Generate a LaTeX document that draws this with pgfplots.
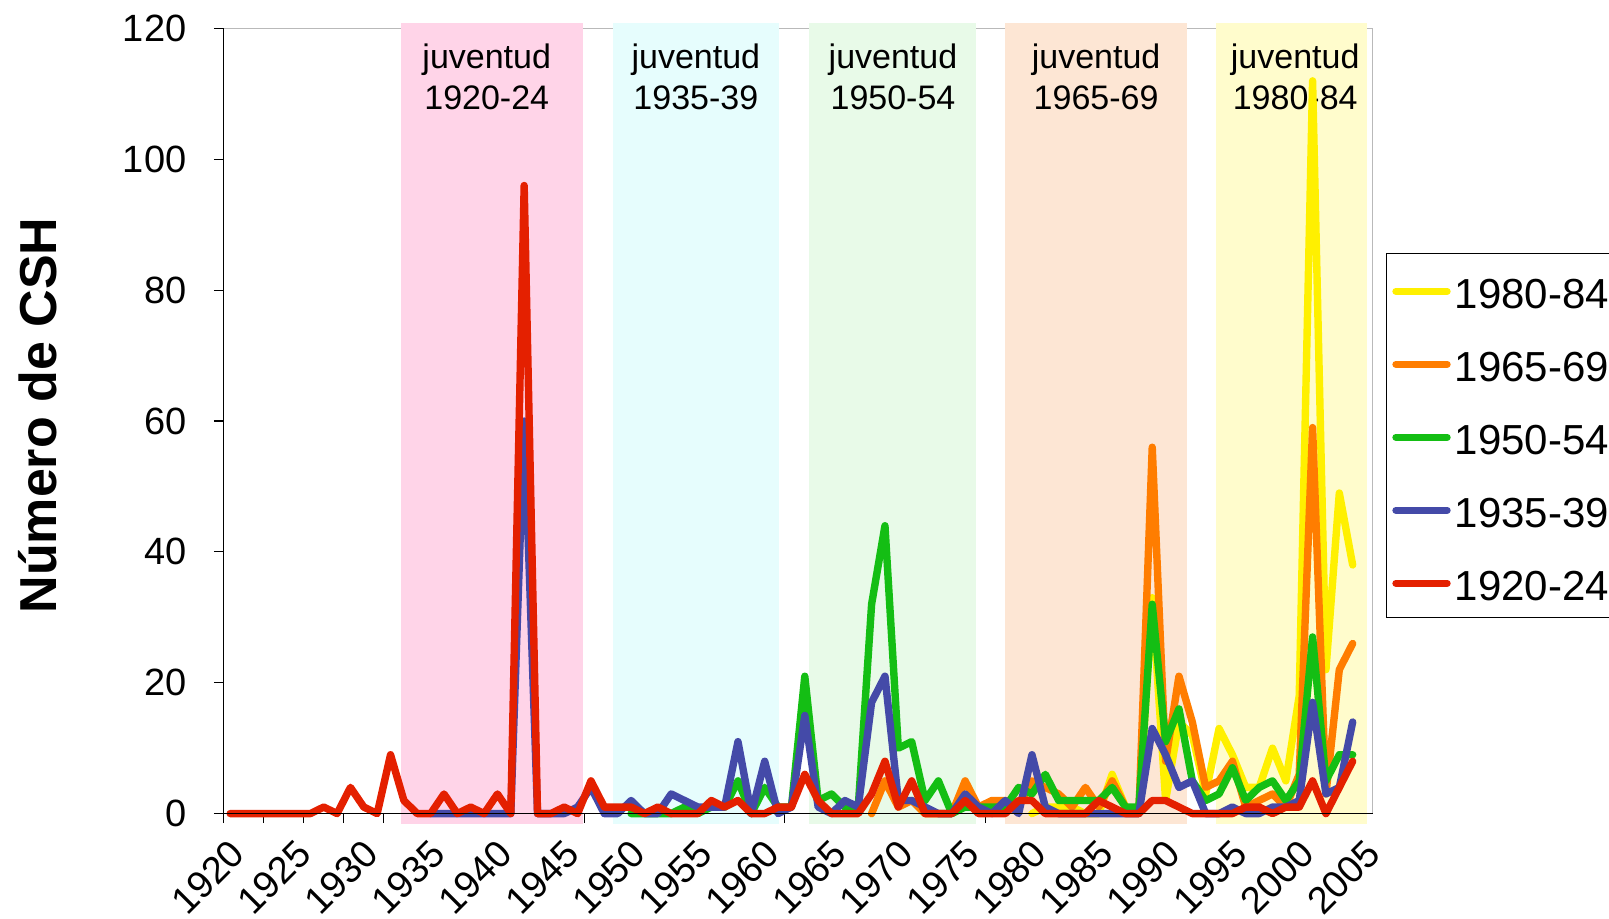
\documentclass[border=0pt]{standalone}
\usepackage{pgfplots}
\usepackage{pgfplotstable}
\pgfplotsset{compat=1.18}
\usepackage{fontspec}
\setmainfont{Liberation Sans}

\definecolor{bandpink}{RGB}{255,212,232}
\definecolor{bandcyan}{RGB}{230,253,253}
\definecolor{bandgreen}{RGB}{232,250,232}
\definecolor{bandpeach}{RGB}{253,230,212}
\definecolor{bandyellow}{RGB}{255,252,204}
\definecolor{cY}{RGB}{255,240,0}
\definecolor{cO}{RGB}{255,125,0}
\definecolor{cG}{RGB}{20,190,20}
\definecolor{cB}{RGB}{68,74,168}
\definecolor{cR}{RGB}{228,32,0}

\pgfplotstableread{
year Y O G B R
1920 nan nan nan nan 0
1921 nan nan nan nan 0
1922 nan nan nan nan 0
1923 nan nan nan nan 0
1924 nan nan nan nan 0
1925 nan nan nan nan 0
1926 nan nan nan nan 0
1927 nan nan nan nan 1
1928 nan nan nan nan 0
1929 nan nan nan nan 4
1930 nan nan nan nan 1
1931 nan nan nan nan 0
1932 nan nan nan nan 9
1933 nan nan nan nan 2
1934 nan nan nan nan 0
1935 nan nan nan 0 0
1936 nan nan nan 0 3
1937 nan nan nan 0 0
1938 nan nan nan 0 1
1939 nan nan nan 0 0
1940 nan nan nan 0 3
1941 nan nan nan 0 0
1942 nan nan nan 60 96
1943 nan nan nan 0 0
1944 nan nan nan 0 0
1945 nan nan nan 0 1
1946 nan nan nan 1 0
1947 nan nan nan 4 5
1948 nan nan nan 0 1
1949 nan nan nan 0 1
1950 nan nan 0 2 1
1951 nan nan 0 0 0
1952 nan nan 0 0 1
1953 nan nan 0 3 0
1954 nan nan 1 2 0
1955 nan nan 0 1 0
1956 nan nan 1 1 2
1957 nan nan 1 1 1
1958 nan nan 5 11 2
1959 nan nan 0 0 0
1960 nan nan 4 8 0
1961 nan nan 1 0 1
1962 nan nan 1 1 1
1963 nan nan 21 15 6
1964 nan nan 2 1 2
1965 nan nan 3 0 0
1966 nan nan 1 2 0
1967 nan nan 1 1 0
1968 nan 0 32 17 3
1969 nan 5 44 21 8
1970 nan 1 10 2 1
1971 nan 2 11 2 5
1972 nan 0 2 1 0
1973 nan 0 5 0 0
1974 nan 0 0 0 0
1975 nan 5 1 3 2
1976 nan 1 1 1 0
1977 nan 2 1 0 0
1978 nan 2 1 2 0
1979 nan 1 4 0 2
1980 0 5 3 9 2
1981 1 4 6 1 0
1982 1 3 2 0 0
1983 1 1 2 0 0
1984 0 4 2 0 0
1985 0 1 2 0 2
1986 6 5 4 0 1
1987 1 1 1 0 0
1988 0 0 1 0 0
1989 33 56 32 13 2
1990 2 8 11 9 2
1991 14 21 16 4 1
1992 12 14 5 5 0
1993 3 4 2 0 0
1994 13 5 3 0 0
1995 9 8 7 1 0
1996 4 1 2 0 1
1997 4 2 4 0 1
1998 10 3 5 1 0
1999 5 1 2 1 1
2000 18 6 5 2 1
2001 112 59 27 17 5
2002 22 3 5 3 0
2003 49 22 9 4 4
2004 38 26 9 14 8
}\datatable

\begin{document}
\begin{tikzpicture}
\begin{axis}[
  at={(111.75pt,52.7pt)}, anchor=south west,
  scale only axis, width=574.6pt, height=392.55pt,
  xmin=1919.5, xmax=2005.5, ymin=0, ymax=120,
  clip=false,
  axis line style={draw=gray!55, line width=0.6pt},
  tick align=outside,
  xtick pos=bottom, ytick pos=left,
  major tick length=4.8pt,
  tick style={black, line width=0.6pt},
  xtick={1919.5,1922.5,...,2004},
  xticklabels={},
  extra x ticks={1920,1925,...,2005},
  extra x tick labels={1920,1925,1930,1935,1940,1945,1950,1955,1960,1965,1970,1975,1980,1985,1990,1995,2000,2005},
  extra x tick style={major tick length=0pt,
    xticklabel style={xshift=-1pt, yshift=-12pt, rotate=45, anchor=north east, inner sep=0pt,
      font=\fontsize{19}{19}\selectfont}},
  ytick={0,20,...,120},
  yticklabel style={font=\fontsize{19}{19}\selectfont, inner sep=0pt, xshift=-13.6pt},
  /pgf/number format/assume math mode=true,
  /pgf/number format/1000 sep={},
  ylabel={Número de CSH},
  ylabel style={at={(axis description cs:-0.1614,0.507)}, anchor=center, font=\bfseries\fontsize{26}{26}\selectfont},
  legend cell align=left,
  legend style={at={(axis description cs:1.0113,0.7137)}, anchor=north west,
    draw=black, line width=0.6pt, fill=white,
    font=\fontsize{21}{21}\selectfont,
    inner xsep=3pt, inner ysep=8pt, row sep=16.5pt,
    nodes={text height=19.5pt, text depth=0.5pt, inner ysep=0pt, inner xsep=2pt}},
  legend image code/.code={\draw[#1, line width=3.6pt, line cap=round] (1.8pt,-0.7pt) -- (27.4pt,-0.7pt);},
]
% bands
\addplot[fill=bandpink, draw=none, forget plot] coordinates {(1932.8,-1.55) (1946.4,-1.55) (1946.4,120.9) (1932.8,120.9)} -- cycle;
\addplot[fill=bandcyan, draw=none, forget plot] coordinates {(1948.67,-1.55) (1961.1,-1.55) (1961.1,120.9) (1948.67,120.9)} -- cycle;
\addplot[fill=bandgreen, draw=none, forget plot] coordinates {(1963.3,-1.55) (1975.8,-1.55) (1975.8,120.9) (1963.3,120.9)} -- cycle;
\addplot[fill=bandpeach, draw=none, forget plot] coordinates {(1978.0,-1.55) (1991.6,-1.55) (1991.6,120.9) (1978.0,120.9)} -- cycle;
\addplot[fill=bandyellow, draw=none, forget plot] coordinates {(1993.8,-1.55) (2005.1,-1.55) (2005.1,120.9) (1993.8,120.9)} -- cycle;

\begin{scope}[font=\fontsize{17}{17}\selectfont]
\node[anchor=base] at (axis cs:1939.2,113.9) {juventud};
\node[anchor=base] at (axis cs:1939.2,107.6) {1920-24};
\node[anchor=base] at (axis cs:1954.85,113.9) {juventud};
\node[anchor=base] at (axis cs:1954.85,107.6) {1935-39};
\node[anchor=base] at (axis cs:1969.6,113.9) {juventud};
\node[anchor=base] at (axis cs:1969.6,107.6) {1950-54};
\node[anchor=base] at (axis cs:1984.8,113.9) {juventud};
\node[anchor=base] at (axis cs:1984.8,107.6) {1965-69};
\node[anchor=base] at (axis cs:1999.7,113.9) {juventud};
\node[anchor=base] at (axis cs:1999.7,107.6) {1980-84};
\end{scope}

\addplot[cY, line width=3.7pt, line join=round, line cap=round] table[x=year, y=Y] {\datatable};
\addlegendentry{1980-84}
\addplot[cO, line width=3.7pt, line join=round, line cap=round] table[x=year, y=O] {\datatable};
\addlegendentry{1965-69}
\addplot[cG, line width=3.7pt, line join=round, line cap=round] table[x=year, y=G] {\datatable};
\addlegendentry{1950-54}
\addplot[cB, line width=3.7pt, line join=round, line cap=round] table[x=year, y=B] {\datatable};
\addlegendentry{1935-39}
\addplot[cR, line width=3.7pt, line join=round, line cap=round] table[x=year, y=R] {\datatable};
\addlegendentry{1920-24}

\draw[black, line width=0.6pt] (rel axis cs:0,1) -- (rel axis cs:0,0) -- (rel axis cs:1,0);
\end{axis}
\pgfresetboundingbox
\useasboundingbox (0,0) rectangle (804.5pt,459.5pt);
\end{tikzpicture}
\end{document}
